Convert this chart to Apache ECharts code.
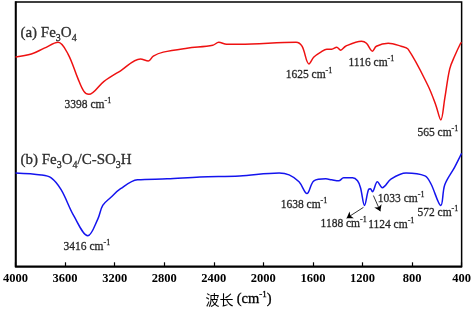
<!DOCTYPE html>
<html>
<head>
<meta charset="utf-8">
<script src="https://cdn.jsdelivr.net/npm/echarts@6/dist/echarts.min.js"></script>
<style>
  html, body { margin: 0; padding: 0; background: #fff; }
  #chart { width: 474px; height: 312px; }
</style>
</head>
<body>
<div id="chart"></div>
<script>
// wavenumber (cm-1), transmittance (a.u.)
var fe3o4 = [
  [4000, 213], [3872, 216], [3768, 222], [3656, 228], [3576, 216], [3496, 191],
  [3448, 178], [3408, 175], [3288, 188], [3152, 199], [2992, 211], [2928, 209],
  [2888, 214], [2808, 218], [2616, 222], [2408, 225], [2360, 228], [2296, 226],
  [2192, 226], [1736, 228], [1688, 224], [1632, 206], [1592, 213], [1536, 218],
  [1488, 221], [1448, 221], [1408, 223], [1376, 220], [1336, 224], [1208, 229],
  [1168, 227], [1120, 219], [1088, 224], [992, 227], [888, 224], [832, 221],
  [672, 184], [608, 164], [568, 149], [536, 171], [496, 201], [456, 214],
  [408, 227], [400, 228]
];
var fe3o4CSO3H = [
  [4000, 95], [3792, 93], [3712, 90], [3632, 78], [3528, 51], [3416, 31],
  [3336, 48], [3296, 62], [3232, 70], [3152, 79], [3016, 88], [2776, 89],
  [2512, 91], [2192, 92], [1872, 95], [1792, 93], [1712, 86], [1648, 74],
  [1592, 87], [1496, 89], [1448, 88], [1392, 87], [1352, 90], [1280, 90],
  [1240, 87], [1216, 80], [1184, 62], [1152, 78], [1136, 79], [1120, 76],
  [1080, 86], [1040, 80], [968, 89], [848, 95], [696, 92], [648, 84],
  [568, 62], [536, 83], [456, 101], [408, 113], [400, 115]
];
var xTicks = [4000, 3600, 3200, 2800, 2400, 2000, 1600, 1200, 800, 400];

// peak labels: [wavenumber, transmittance, text]
var peakLabels = [
  [3416, 164, '3398'], [1632, 195, '1625'], [1128, 207, '1116'], [592, 136, '565'],
  [3424, 20, '3416'], [1672, 62, '1638'], [1352, 43, '1188'], [968, 42, '1124'],
  [888, 69, '1033'], [592, 54, '572']
];
var seriesLabels = [
  [3960, 237, '{t|(a) Fe}{sub|3}{t|O}{sub|4}'],
  [3960, 108, '{t|(b) Fe}{sub|3}{t|O}{sub|4}{t|/C-SO}{sub|3}{t|H}']
];
// arrows: from peak to label
var arrows = [
  [[1192, 60], [1328, 49]],
  [[1112, 72], [1056, 56]]
];

var serif = '"Liberation Serif", "DejaVu Serif", serif';
var ink = { color: '#000', textBorderColor: '#000', textBorderWidth: 0.3 };
function txt(o) { return Object.assign({ fontFamily: serif }, ink, o); }
var rich = {
  t: txt({ fontSize: 11.5, lineHeight: 16 }),
  s: txt({ fontSize: 8, lineHeight: 8, verticalAlign: 'top' })
};
var richTitle = {
  t: txt({ fontSize: 15, lineHeight: 20 }),
  sub: txt({ fontSize: 10, lineHeight: 10, verticalAlign: 'bottom' })
};

var annData = peakLabels.map(function (p) {
  return { value: [p[0], p[1]], label: { formatter: '{t|' + p[2] + ' cm}{s|-1}', position: 'inside', color: '#000', rich: rich } };
}).concat(seriesLabels.map(function (p) {
  return { value: [p[0], p[1]], label: { formatter: p[2], position: 'right', distance: 0, color: '#000', rich: richTitle } };
}));

var chart = echarts.init(document.getElementById('chart'), null, { renderer: 'canvas' });
chart.setOption({
  animation: false,
  backgroundColor: '#fff',
  grid: { left: 14, right: 10, top: 2, bottom: 41, show: true, borderColor: '#000', borderWidth: 1.5 },
  xAxis: {
    type: 'value', inverse: true, min: 400, max: 4000, interval: 400,
    axisLine: { show: true, lineStyle: { color: '#000', width: 1.5 } },
    axisTick: { show: true, inside: true, length: 4, lineStyle: { color: '#000', width: 1.2 } },
    axisLabel: {
      color: '#000', fontFamily: serif, fontWeight: 'bold', fontSize: 12.5, margin: 6,
      showMinLabel: true, showMaxLabel: true,
      customValues: xTicks,
      formatter: function (v) { return String(v); }
    },
    splitLine: { show: false },
    name: '{c|波长 }{t|(cm}{s|-1}{t|)}',
    nameLocation: 'middle', nameGap: 23,
    nameTextStyle: {
      rich: {
        c: txt({ fontFamily: '"Noto Sans CJK SC", serif', fontSize: 14, lineHeight: 18, textBorderWidth: 0 }),
        t: txt({ fontSize: 14.5, lineHeight: 18 }),
        s: txt({ fontSize: 9, lineHeight: 9, verticalAlign: 'top' })
      }
    }
  },
  yAxis: {
    type: 'value', min: 0, max: 269,
    axisLine: { show: true, lineStyle: { color: '#000', width: 1.5 } },
    axisTick: { show: false }, axisLabel: { show: false }, splitLine: { show: false }
  },
  series: [
    {
      name: 'Fe3O4', type: 'line', data: fe3o4, showSymbol: false, smooth: 0.35,
      lineStyle: { color: '#ee1111', width: 1.5 }, itemStyle: { color: '#ee1111' }
    },
    {
      name: 'Fe3O4/C-SO3H', type: 'line', data: fe3o4CSO3H, showSymbol: false, smooth: 0.35,
      lineStyle: { color: '#1414ee', width: 1.5 }, itemStyle: { color: '#1414ee' },
      markLine: {
        silent: true, symbol: ['none', 'arrow'], symbolSize: 6,
        lineStyle: { color: '#000', width: 0.8, type: 'solid' },
        label: { show: false },
        data: arrows.map(function (a) { return [{ coord: a[0] }, { coord: a[1] }]; })
      }
    },
    {
      name: 'labels', type: 'scatter', data: annData, symbolSize: 0, silent: true,
      label: { show: true, color: '#000' }, z: 5
    }
  ]
});
</script>
</body>
</html>
